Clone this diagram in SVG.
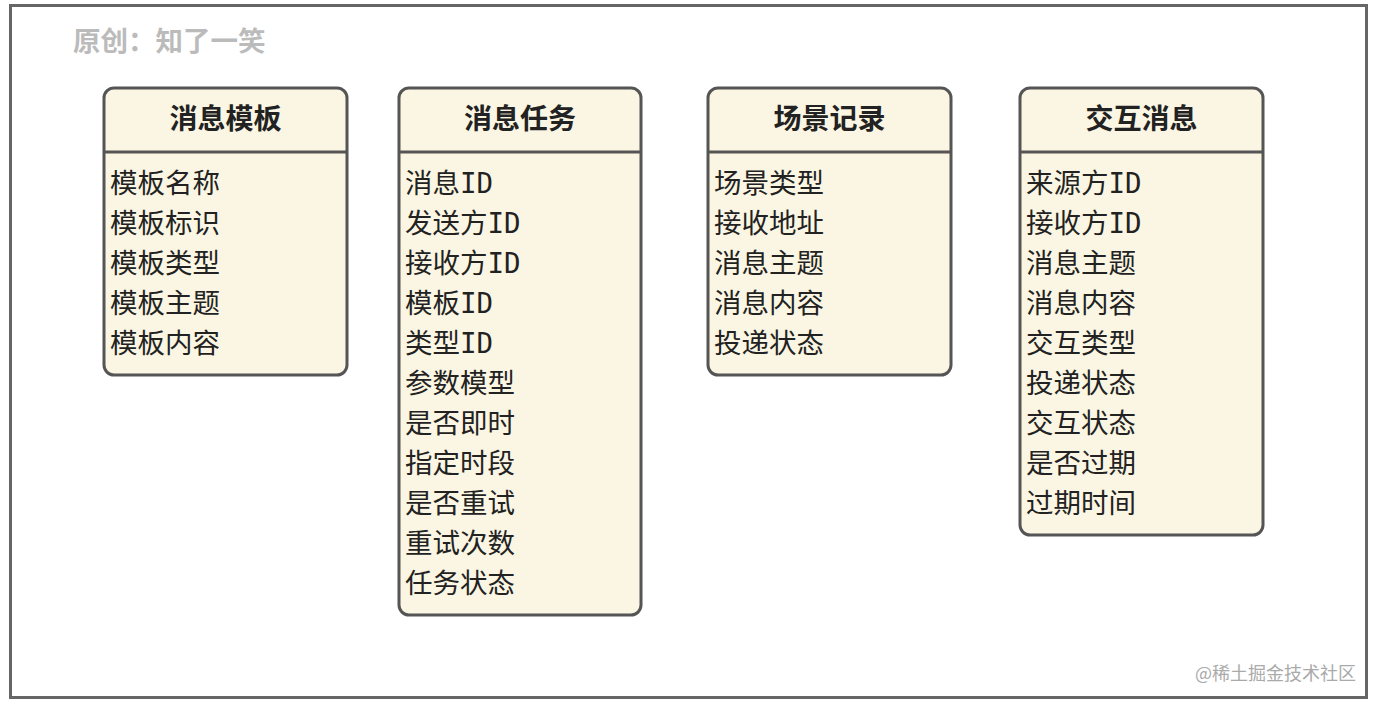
<svg xmlns="http://www.w3.org/2000/svg" width="1376" height="704" viewBox="0 0 1376 704">
<style>
.box{fill:#fbf6e3;stroke:#555;stroke-width:3}
.div{stroke:#555;stroke-width:3}
.hd{font-family:"DejaVu Sans Mono","Noto Sans CJK SC",monospace;font-size:28px;font-weight:bold;fill:#222;text-anchor:middle}
.it{font-family:"DejaVu Sans Mono","Noto Sans CJK SC",monospace;font-size:27.5px;fill:#222}
</style>
<rect x="0" y="0" width="1376" height="704" fill="#fff"/>
<rect x="10.5" y="5.5" width="1356" height="692" fill="#fff" stroke="#666" stroke-width="3"/>
<text x="73" y="51" font-family="Noto Sans CJK SC,sans-serif" font-size="27.5" font-weight="bold" fill="#bbb">原创：知了一笑</text>
<text x="1356" y="680" font-family="Noto Sans CJK SC,sans-serif" font-size="18" fill="#aaa" text-anchor="end">@稀土掘金技术社区</text>
<g id="connectors"></g>
<g id="node-template">
<rect class="box" x="104" y="88" width="243" height="287" rx="10"/>
<line class="div" x1="104" y1="152" x2="347" y2="152"/>
<text class="hd" x="225.5" y="129">消息模板</text>
<text class="it" x="110" y="193">模板名称</text>
<text class="it" x="110" y="233">模板标识</text>
<text class="it" x="110" y="273">模板类型</text>
<text class="it" x="110" y="313">模板主题</text>
<text class="it" x="110" y="353">模板内容</text>
</g>
<g id="node-task">
<rect class="box" x="399" y="88" width="242" height="527" rx="10"/>
<line class="div" x1="399" y1="152" x2="641" y2="152"/>
<text class="hd" x="520" y="129">消息任务</text>
<text class="it" x="405" y="193">消息ID</text>
<text class="it" x="405" y="233">发送方ID</text>
<text class="it" x="405" y="273">接收方ID</text>
<text class="it" x="405" y="313">模板ID</text>
<text class="it" x="405" y="353">类型ID</text>
<text class="it" x="405" y="393">参数模型</text>
<text class="it" x="405" y="433">是否即时</text>
<text class="it" x="405" y="473">指定时段</text>
<text class="it" x="405" y="513">是否重试</text>
<text class="it" x="405" y="553">重试次数</text>
<text class="it" x="405" y="593">任务状态</text>
</g>
<g id="node-scene">
<rect class="box" x="708" y="88" width="243" height="287" rx="10"/>
<line class="div" x1="708" y1="152" x2="951" y2="152"/>
<text class="hd" x="829.5" y="129">场景记录</text>
<text class="it" x="714" y="193">场景类型</text>
<text class="it" x="714" y="233">接收地址</text>
<text class="it" x="714" y="273">消息主题</text>
<text class="it" x="714" y="313">消息内容</text>
<text class="it" x="714" y="353">投递状态</text>
</g>
<g id="node-interact">
<rect class="box" x="1020" y="88" width="243" height="447" rx="10"/>
<line class="div" x1="1020" y1="152" x2="1263" y2="152"/>
<text class="hd" x="1141.5" y="129">交互消息</text>
<text class="it" x="1026" y="193">来源方ID</text>
<text class="it" x="1026" y="233">接收方ID</text>
<text class="it" x="1026" y="273">消息主题</text>
<text class="it" x="1026" y="313">消息内容</text>
<text class="it" x="1026" y="353">交互类型</text>
<text class="it" x="1026" y="393">投递状态</text>
<text class="it" x="1026" y="433">交互状态</text>
<text class="it" x="1026" y="473">是否过期</text>
<text class="it" x="1026" y="513">过期时间</text>
</g>
</svg>
